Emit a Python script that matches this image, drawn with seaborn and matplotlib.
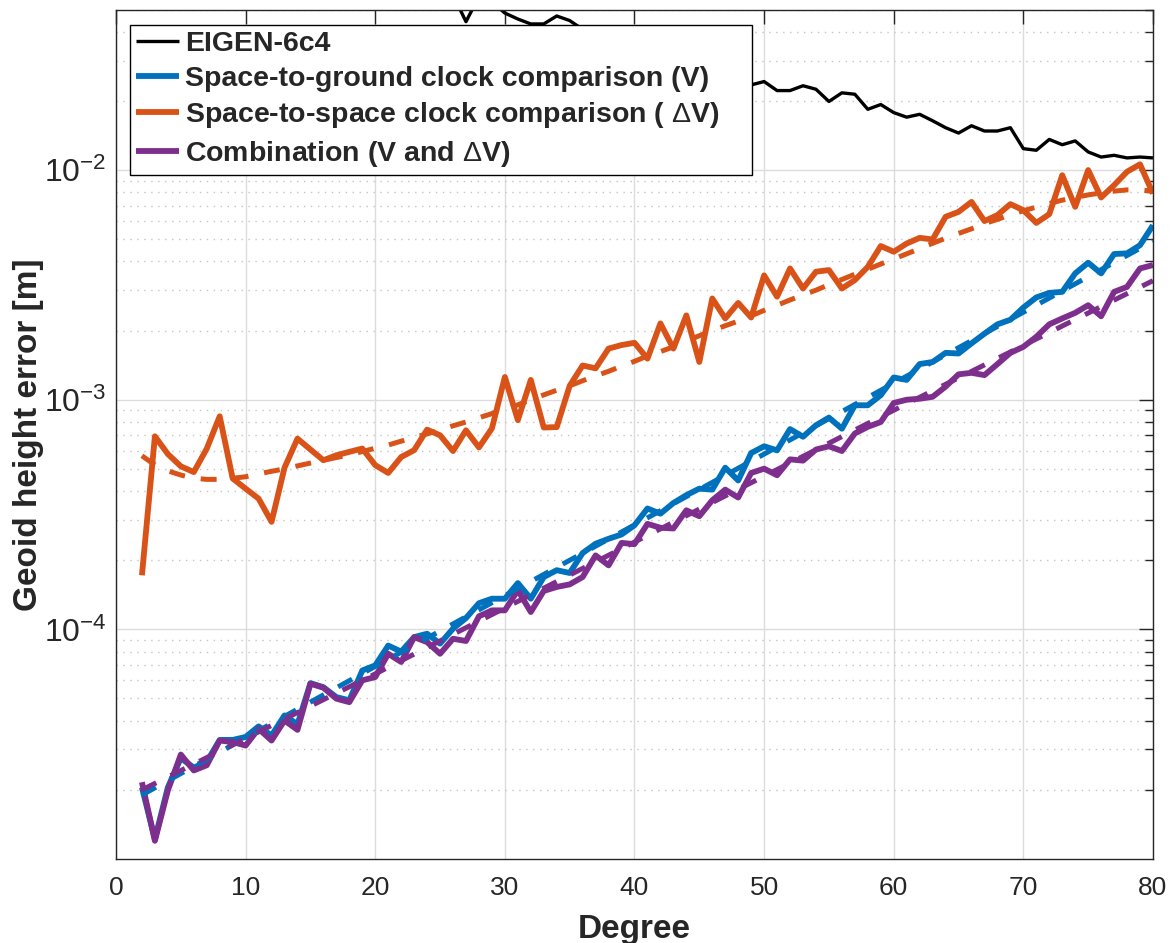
import numpy as np
import pandas as pd
import matplotlib
matplotlib.use("Agg")
import matplotlib.pyplot as plt
import seaborn as sns
from matplotlib.ticker import LogLocator, NullFormatter, FixedLocator

# ---------------- data ----------------
degree = list(range(2, 81))

eigen_6c4 = [0.42, 0.36, 0.31, 0.27, 0.24, 0.21, 0.19, 0.17, 0.155, 0.14, 0.13, 0.12,
             0.11, 0.10, 0.095, 0.088, 0.082, 0.078, 0.074, 0.07, 0.067, 0.064, 0.062, 0.06,
             0.058, 0.0443, 0.057, 0.054, 0.0483, 0.0455, 0.0433, 0.0433, 0.0469, 0.0448,
             0.041, 0.042, 0.038, 0.039, 0.035, 0.036, 0.033, 0.032, 0.031, 0.029, 0.0295,
             0.027, 0.026,
             0.0235, 0.0243, 0.0222, 0.0222, 0.0233, 0.0225, 0.0199, 0.0217, 0.0214, 0.0184,
             0.0193, 0.0178, 0.0170, 0.0175, 0.0164, 0.0153, 0.0145, 0.0156, 0.0148, 0.0148,
             0.0153, 0.0124, 0.0122, 0.0136, 0.0129, 0.0134, 0.0120, 0.0114, 0.0116, 0.0113,
             0.0114, 0.0113]

space_ground_V = [2.05e-5, 1.22e-5, 2.05e-5, 2.75e-5, 2.5e-5, 2.65e-5, 3.3e-5, 3.3e-5, 3.4e-5,
                  3.78e-5, 3.45e-5, 4.22e-5, 3.86e-5, 5.83e-5, 5.6e-5, 5.07e-5, 4.91e-5, 6.62e-5,
                  6.97e-5, 8.5e-5, 8.0e-5, 9.25e-5, 9.57e-5, 8.67e-5, 1.007e-4, 1.12e-4, 1.30e-4,
                  1.36e-4, 1.36e-4, 1.59e-4, 1.36e-4, 1.69e-4, 1.81e-4, 1.76e-4, 2.15e-4, 2.36e-4,
                  2.48e-4, 2.59e-4, 2.84e-4, 3.36e-4, 3.19e-4, 3.55e-4, 3.84e-4, 4.1e-4, 4.06e-4,
                  5.06e-4, 4.45e-4, 5.86e-4, 6.27e-4, 6.02e-4, 7.45e-4, 6.9e-4, 7.74e-4, 8.36e-4,
                  7.48e-4, 9.46e-4, 9.46e-4, 1.047e-3, 1.25e-3, 1.22e-3, 1.43e-3, 1.46e-3, 1.60e-3,
                  1.59e-3, 1.76e-3, 1.94e-3, 2.13e-3, 2.23e-3, 2.52e-3, 2.79e-3, 2.92e-3, 2.95e-3,
                  3.55e-3, 3.95e-3, 3.55e-3, 4.31e-3, 4.34e-3, 4.71e-3, 5.75e-3]

space_space_dV = [1.72e-4, 6.93e-4, 5.8e-4, 5.13e-4, 4.84e-4, 6.12e-4, 8.47e-4, 4.54e-4, 4.1e-4,
                  3.71e-4, 2.94e-4, 5.06e-4, 6.77e-4, 6.07e-4, 5.45e-4, 5.73e-4, 5.93e-4, 6.13e-4,
                  5.19e-4, 4.8e-4, 5.63e-4, 6.03e-4, 7.41e-4, 7.0e-4, 5.98e-4, 7.36e-4, 6.2e-4,
                  7.5e-4, 1.256e-3, 8.15e-4, 1.22e-3, 7.57e-4, 7.6e-4, 1.15e-3, 1.41e-3, 1.37e-3,
                  1.67e-3, 1.73e-3, 1.77e-3, 1.51e-3, 2.15e-3, 1.67e-3, 2.33e-3, 1.46e-3, 2.76e-3,
                  2.26e-3, 2.64e-3, 2.28e-3, 3.48e-3, 2.81e-3, 3.73e-3, 3.05e-3, 3.61e-3, 3.67e-3,
                  3.05e-3, 3.32e-3, 3.79e-3, 4.67e-3, 4.41e-3, 4.79e-3, 5.07e-3, 4.99e-3, 6.26e-3,
                  6.58e-3, 7.27e-3, 6.0e-3, 6.37e-3, 7.11e-3, 6.69e-3, 5.89e-3, 6.43e-3, 9.5e-3,
                  6.92e-3, 1.0e-2, 7.6e-3, 8.6e-3, 9.84e-3, 1.06e-2, 7.9e-3]

combination = [2.16e-5, 1.2e-5, 1.99e-5, 2.85e-5, 2.43e-5, 2.56e-5, 3.28e-5, 3.23e-5, 3.12e-5,
               3.69e-5, 3.28e-5, 4.01e-5, 3.65e-5, 5.8e-5, 5.57e-5, 4.99e-5, 4.82e-5, 6.0e-5,
               6.2e-5, 7.83e-5, 7.21e-5, 9.25e-5, 8.8e-5, 7.83e-5, 9.1e-5, 8.9e-5, 1.14e-4,
               1.21e-4, 1.21e-4, 1.48e-4, 1.19e-4, 1.47e-4, 1.53e-4, 1.57e-4, 1.69e-4, 2.10e-4,
               1.90e-4, 2.38e-4, 2.35e-4, 2.88e-4, 2.77e-4, 2.75e-4, 3.30e-4, 3.11e-4, 3.65e-4,
               4.06e-4, 3.75e-4, 4.8e-4, 5.01e-4, 4.69e-4, 5.5e-4, 5.43e-4, 6.07e-4, 6.27e-4,
               5.98e-4, 7.13e-4, 7.62e-4, 8.0e-4, 9.68e-4, 1.0e-3, 1.01e-3, 1.03e-3, 1.14e-3,
               1.29e-3, 1.31e-3, 1.28e-3, 1.43e-3, 1.60e-3, 1.70e-3, 1.88e-3, 2.13e-3, 2.26e-3,
               2.39e-3, 2.58e-3, 2.31e-3, 2.95e-3, 3.10e-3, 3.73e-3, 3.86e-3]

# fitted (dashed) curves
fit_deg_lin = [2, 20, 40, 60, 80]
fit_V = [1.9e-5, 6.9e-5, 2.85e-4, 1.18e-3, 4.9e-3]
fit_comb = [2.0e-5, 6.4e-5, 2.4e-4, 9.0e-4, 3.3e-3]
fit_dV = [5.7e-4, 5.2e-4, 4.9e-4, 4.7e-4, 4.55e-4, 4.5e-4, 4.5e-4, 4.55e-4, 4.62e-4, 4.75e-4,
          4.88e-4, 5.0e-4, 5.15e-4, 5.3e-4, 5.45e-4, 5.6e-4, 5.75e-4, 5.95e-4, 6.15e-4, 6.35e-4,
          6.6e-4, 6.85e-4, 7.1e-4, 7.4e-4, 7.7e-4, 8.0e-4, 8.35e-4, 8.7e-4, 9.1e-4, 9.5e-4,
          1.0e-3, 1.05e-3, 1.1e-3, 1.15e-3, 1.21e-3, 1.27e-3, 1.33e-3, 1.4e-3, 1.47e-3, 1.55e-3,
          1.62e-3, 1.7e-3, 1.8e-3, 1.9e-3, 2.0e-3, 2.1e-3, 2.2e-3, 2.32e-3, 2.45e-3, 2.58e-3,
          2.72e-3, 2.86e-3, 3.0e-3, 3.17e-3, 3.34e-3, 3.52e-3, 3.7e-3, 3.9e-3, 4.1e-3, 4.32e-3,
          4.55e-3, 4.8e-3, 5.05e-3, 5.3e-3, 5.55e-3, 5.85e-3, 6.1e-3, 6.4e-3, 6.65e-3, 6.9e-3,
          7.15e-3, 7.4e-3, 7.6e-3, 7.8e-3, 7.95e-3, 8.1e-3, 8.2e-3, 8.2e-3, 8.1e-3]

labels = ["EIGEN-6c4",
          "Space-to-ground clock comparison (V)",
          "Space-to-space clock comparison ( $\\Delta$V)",
          "Combination (V and $\\Delta$V)"]
xticks = [0, 10, 20, 30, 40, 50, 60, 70, 80]
yticks = [1e-4, 1e-3, 1e-2]

# ---------------- style ----------------
sns.set_theme(style="white")
plt.rcParams["font.family"] = ["Liberation Sans", "DejaVu Sans"]
plt.rcParams["mathtext.fontset"] = "custom"
plt.rcParams["mathtext.rm"] = "Liberation Sans"
plt.rcParams["mathtext.it"] = "Liberation Sans:italic"
plt.rcParams["mathtext.bf"] = "Liberation Sans:bold"
plt.rcParams["lines.solid_capstyle"] = "butt"

C_BLUE = "#0072BD"
C_ORANGE = "#D95319"
C_PURPLE = "#7E2F8E"
AX_COL = "#262626"

df = pd.DataFrame({"degree": degree, "eigen": eigen_6c4, "V": space_ground_V,
                   "dV": space_space_dV, "comb": combination, "fit_dV": fit_dV})
df_fit = pd.DataFrame({"degree": fit_deg_lin, "fit_V": fit_V, "fit_comb": fit_comb})

fig = plt.figure(figsize=(11.7, 9.43), dpi=100)
ax = fig.add_axes([0.09915, 0.08908, 0.8863, 0.90074])
ax.set_yscale("log")

LW = 4.2
sns.lineplot(data=df, x="degree", y="eigen", ax=ax, color="black", lw=2.4, label=labels[0])
sns.lineplot(data=df, x="degree", y="V", ax=ax, color=C_BLUE, lw=LW, label=labels[1])
sns.lineplot(data=df, x="degree", y="dV", ax=ax, color=C_ORANGE, lw=LW, label=labels[2])
sns.lineplot(data=df, x="degree", y="comb", ax=ax, color=C_PURPLE, lw=LW, label=labels[3])

dash = (0, (3.2, 3.2))
sns.lineplot(data=df_fit, x="degree", y="fit_V", ax=ax, color=C_BLUE, lw=3.6, legend=False)
ax.lines[-1].set_linestyle(dash)
sns.lineplot(data=df, x="degree", y="fit_dV", ax=ax, color=C_ORANGE, lw=3.6, legend=False)
ax.lines[-1].set_linestyle(dash)
sns.lineplot(data=df_fit, x="degree", y="fit_comb", ax=ax, color=C_PURPLE, lw=3.6, legend=False)
ax.lines[-1].set_linestyle(dash)

ax.set_xlim(0, 80)
ax.set_ylim(1e-5, 5e-2)
ax.set_xticks(xticks)
ax.xaxis.set_minor_locator(plt.NullLocator())
ax.yaxis.set_major_locator(FixedLocator(yticks))
ax.yaxis.set_minor_locator(LogLocator(base=10, subs=np.arange(2, 10), numticks=20))
ax.yaxis.set_minor_formatter(NullFormatter())

# grid
ax.grid(which="major", axis="both", color="#DCDCDC", lw=1.0, ls="-")
ax.grid(which="minor", axis="y", color="#C4C4C4", lw=1.0, ls=(0, (1, 4)))
ax.set_axisbelow(True)

for s in ax.spines.values():
    s.set_color(AX_COL)
    s.set_linewidth(1.0)
    s.set_visible(True)

ax.tick_params(which="both", direction="in", top=True, right=True, colors=AX_COL)
ax.tick_params(axis="x", labelsize=19, pad=12)
ax.tick_params(axis="y", labelsize=23, pad=7)
ax.tick_params(which="major", length=10, width=1.0)
ax.tick_params(which="minor", length=6, width=1.0)

ax.set_xlabel("Degree", fontsize=24, fontweight="bold", color=AX_COL, labelpad=10)
ax.set_ylabel("Geoid height error [m]", fontsize=24, fontweight="bold", color=AX_COL,
              labelpad=0)

leg = ax.legend(loc="upper left", bbox_to_anchor=(0.0135, 0.80, 0.5998, 0.182),
                mode="expand", borderaxespad=0,
                frameon=True, fancybox=False, edgecolor="black", framealpha=1,
                facecolor="white", handlelength=1.5, handletextpad=0.22, borderpad=0.22,
                labelspacing=0.3, prop={"weight": "bold", "size": 20.5})
leg.get_frame().set_linewidth(1.0)
leg.set_zorder(10)

fig.savefig("out.png", dpi=100)
